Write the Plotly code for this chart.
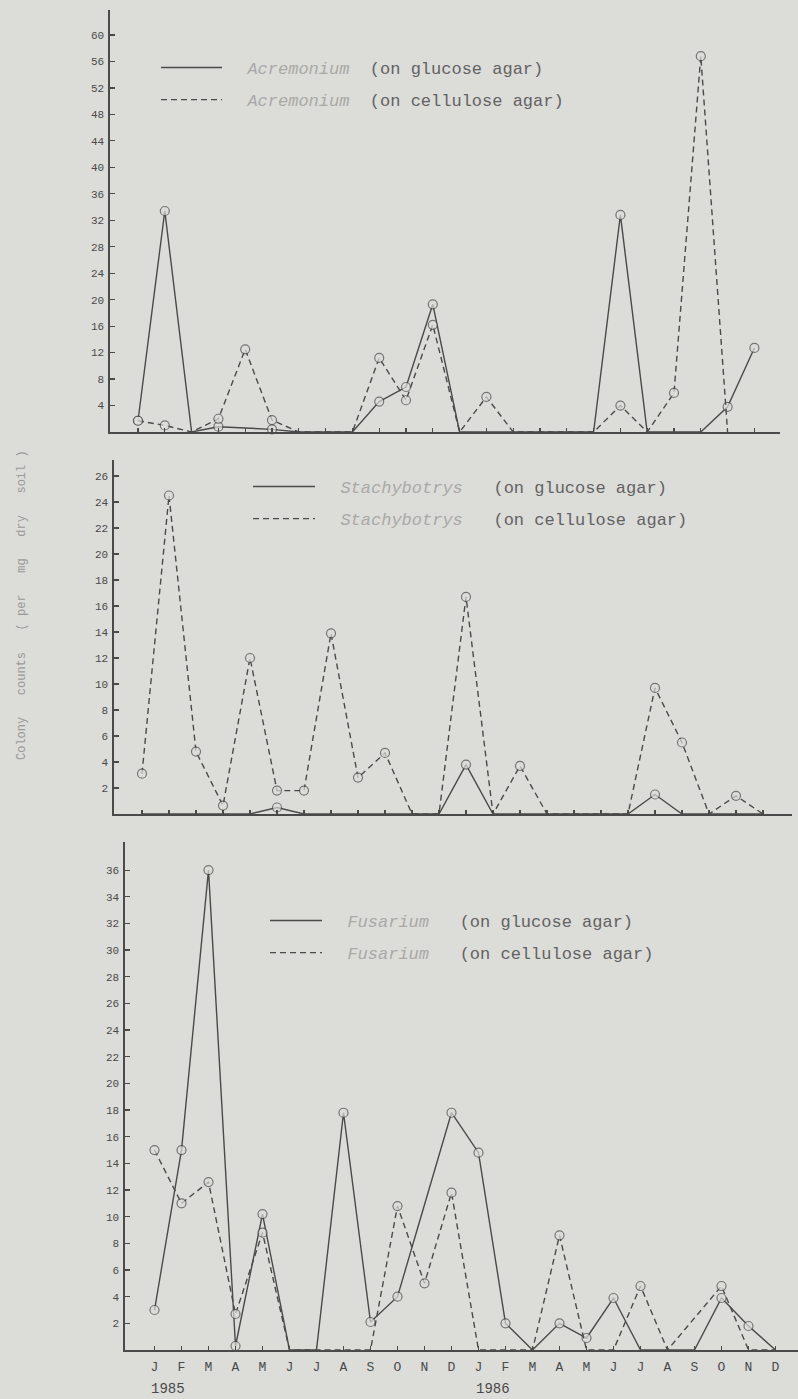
import plotly.graph_objects as go

# ---------------- data ----------------
months = ["J", "F", "M", "A", "M", "J", "J", "A", "S", "O", "N", "D",
          "J", "F", "M", "A", "M", "J", "J", "A", "S", "O", "N", "D"]
month_idx = list(range(24))
years = ["1985", "1986"]

acr_glucose = [1.7, 33.4, 0, 0.8, None, 0.4, 0, 0, 0, 4.6, 6.8, 19.3,
               0, 0, 0, 0, 0, 0, 32.8, 0, 0, 0, 3.8, 12.7]
acr_cellulose = [1.7, 1.0, 0, 2.0, 12.5, 1.8, 0, 0, 0, 11.2, 4.8, 16.2,
                 0, 5.3, 0, 0, 0, 0, 4.0, 0, 5.9, 56.8, 0, None]

sta_glucose = [0, 0, 0, 0, 0, 0.5, 0, 0, 0, 0, 0, 0,
               3.8, 0, 0, 0, 0, 0, 0, 1.5, 0, 0, 0, 0]
sta_cellulose = [3.1, 24.5, 4.8, 0.65, 12.0, 1.8, 1.8, 13.9, 2.8, 4.7, 0, 0,
                 16.7, 0, 3.7, 0, 0, 0, 0, 9.7, 5.5, 0, 1.4, 0]

fus_glucose = [3.0, 15.0, 36.0, 0.3, 10.2, 0, 0, 17.8, 2.1, 4.0, None, 17.8,
               14.8, 2.0, 0, 2.0, 0.9, 3.9, 0, 0, 0, 3.9, 1.8, 0]
fus_cellulose = [15.0, 11.0, 12.6, 2.7, 8.8, 0, 0, 0, 0, 10.8, 5.0, 11.8,
                 0, 0, 0, 8.6, 0, 0, 4.8, 0, None, 4.8, 0, 0]

genera = ["Acremonium", "Stachybotrys", "Fusarium"]
y_ticks = [list(range(4, 61, 4)), list(range(2, 27, 2)), list(range(2, 37, 2))]

# ---------------- style / layout ----------------
W, H = 798, 1399
BG = "#dcdcd9"
INK = "#4a4a4a"
MONO = "Liberation Mono, DejaVu Sans Mono, monospace"

# pixel geometry of each panel
geo = [
    dict(xl=110, xr=780, x0=138, dx=26.8, y0=432, yt=10, upp=6.617,
         lx=156, ly=50, iw=61, gap="&nbsp;"),
    dict(xl=114, xr=792, x0=142, dx=27.0, y0=814, yt=460, upp=13.0,
         lx=248, ly=469, iw=62, gap="&nbsp;&nbsp;"),
    dict(xl=125, xr=798, x0=154.5, dx=27.0, y0=1350, yt=842, upp=13.33,
         lx=265, ly=903, iw=52, gap="&nbsp;&nbsp;"),
]
series = [(acr_glucose, acr_cellulose), (sta_glucose, sta_cellulose),
          (fus_glucose, fus_cellulose)]

fig = go.Figure()


def msizes(vals):
    return [9 if (v is not None and v > 0) else 0 for v in vals]


def mlw(vals):
    return [1.2 if (v is not None and v > 0) else 0 for v in vals]


for i, (g, (glu, cel)) in enumerate(zip(geo, series)):
    n = "" if i == 0 else str(i + 1)
    xa, ya = "x" + n, "y" + n
    leg = "legend" + n
    for vals, dash in ((glu, "solid"), (cel, "6px,4px")):
        fig.add_trace(go.Scatter(
            x=month_idx, y=vals, mode="lines+markers", connectgaps=True,
            line=dict(color=INK, width=1.4, dash=dash),
            marker=dict(symbol="circle", size=msizes(vals), color=BG,
                        line=dict(color=INK, width=mlw(vals))),
            xaxis=xa, yaxis=ya, showlegend=False, cliponaxis=False,
            hoverinfo="skip"))
    # legend entries
    for k, (medium, dash) in enumerate((("glucose", "solid"), ("cellulose", "6px,4px"))):
        fig.add_trace(go.Scatter(
            x=[None], y=[None], mode="lines",
            line=dict(color=INK, width=1.4, dash=dash),
            name=("&nbsp;&nbsp;<i><span style='color:#a9a9a7'>%s</span></i>%s<span style='color:#626262'>(on %s agar)</span>"
                  % (genera[i], g["gap"] + "&nbsp;", medium)),
            legend=leg, legendgroup="%d_%d" % (i, k),
            xaxis=xa, yaxis=ya, showlegend=True))

    xr0 = (g["xl"] - g["x0"]) / g["dx"]
    xr1 = (g["xr"] - g["x0"]) / g["dx"]
    ytop = (g["y0"] - g["yt"]) / g["upp"]
    fig.update_layout(**{
        "xaxis" + n: dict(
            domain=[g["xl"] / W, g["xr"] / W], range=[xr0, xr1],
            tickvals=month_idx, ticktext=months, ticks="inside", ticklen=4,
            tickcolor=INK, tickwidth=1.2, showticklabels=(i == 2),
            tickfont=dict(family=MONO, size=13, color="#4a4a4a"),
            ticklabelstandoff=4,
            showline=True, linecolor=INK, linewidth=1.6, showgrid=False,
            zeroline=False, anchor=ya, fixedrange=True),
        "yaxis" + n: dict(
            domain=[1 - g["y0"] / H, 1 - g["yt"] / H], range=[0, ytop],
            tickvals=y_ticks[i], ticks="inside", ticklen=5, tickcolor=INK,
            tickwidth=1.2, tickfont=dict(family=MONO, size=11, color="#4a4a4a"),
            ticklabelstandoff=2,
            showline=True, linecolor=INK, linewidth=1.6, showgrid=False,
            zeroline=False, anchor=xa, fixedrange=True),
        leg: dict(
            x=g["lx"] / W, y=1 - g["ly"] / H, xanchor="left", yanchor="top",
            bgcolor="rgba(0,0,0,0)", borderwidth=0, itemwidth=g["iw"],
            tracegroupgap=7, traceorder="grouped",
            font=dict(family=MONO, size=17, color="#626262"),
            itemclick=False, itemdoubleclick=False),
    })

# year labels under the bottom axis
for yr, xpos in zip(years, [0.5, 12.55]):
    fig.add_annotation(text=yr, x=xpos, xref="x3", y=1 - 1389 / H, yref="paper",
                       showarrow=False, xanchor="center", yanchor="middle",
                       font=dict(family=MONO, size=14, color="#4a4a4a"))

# common y-axis title
fig.add_annotation(
    text="Colony&nbsp;&nbsp; counts&nbsp;&nbsp; (&nbsp;per&nbsp;&nbsp; mg&nbsp;&nbsp; dry&nbsp;&nbsp; soil )",
    x=22 / W, y=1 - 605 / H, xref="paper", yref="paper", textangle=-90,
    showarrow=False, xanchor="center", yanchor="middle",
    font=dict(family=MONO, size=12, color="#9a9a98"))

fig.update_layout(width=W, height=H, margin=dict(l=0, r=0, t=0, b=0),
                  paper_bgcolor=BG, plot_bgcolor=BG)

fig.write_html(
    "out.html",
    config={"displayModeBar": False, "staticPlot": True},
    post_script="document.body.style.margin='0px';"
                "document.body.style.background='%s';" % BG)
